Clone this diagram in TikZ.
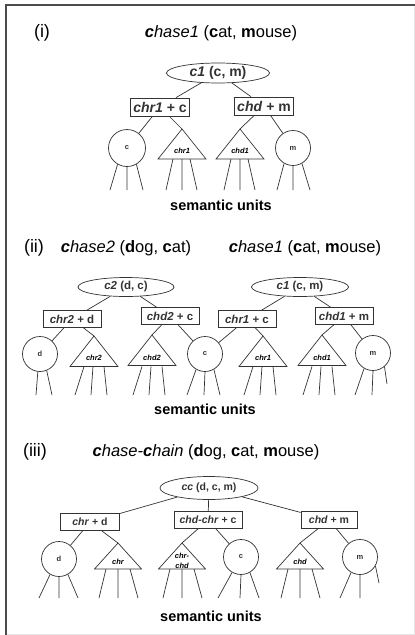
\documentclass[tikz,border=0pt]{standalone}
\usepackage{fontspec}
\setmainfont{Liberation Sans}
\usetikzlibrary{shapes.geometric}

\tikzset{
  lin/.style={line width=0.7pt, black!80},
  panel/.style={font=\fontsize{18}{20}\selectfont},
  ttl/.style={font=\fontsize{16.5}{18}\selectfont},
  sem/.style={ellipse, draw, lin, inner sep=0pt},
  feat/.style={rectangle, draw, lin, inner sep=2.5pt},
  unit/.style={circle, draw, lin, inner sep=0pt, minimum size=35pt,
    font=\fontsize{7.5}{8}\selectfont\bfseries},
  trilab/.style={font=\fontsize{7.5}{8}\selectfont\bfseries\itshape, inner sep=0pt, align=center},
  units/.style={font=\fontsize{14.5}{16}\selectfont\bfseries}
}

\begin{document}
\begin{tikzpicture}[x=1pt,y=-1pt]
  \useasboundingbox (0,0) rectangle (415,635);
  \fill[white] (0,0) rectangle (415,635);
  % frame
  \draw[black!10] (414,5) -- (414,634) -- (6,634);
  \draw[black!70, line width=1.5pt] (6,635) -- (6,5) -- (415,5);

  % (i)
  \node[panel] (lab1) at (42,33) {(i)};
  \node[ttl] (title1) at (221,33) {\textbf{\textit{c}}\textit{hase1} (\textbf{c}at, \textbf{m}ouse)};
  \node[sem, minimum width=103pt, minimum height=20pt, font=\fontsize{14}{16}\selectfont\bfseries] (c1) at (218,73) {\textit{c1} (c, m)};
  \node[feat, minimum height=18pt, font=\fontsize{14}{16}\selectfont\bfseries] (chr1c) at (160,107) {\textit{chr1} + c};
  \node[feat, minimum height=18pt, font=\fontsize{14}{16}\selectfont\bfseries] (chdm) at (264,106) {\textit{chd} + m};
  \node[unit, minimum size=37pt] (uc) at (127,148) {c};
  \node[unit] (um) at (293,148) {m};
  \coordinate (tchr1) at (182,129);
  \coordinate (tchd1) at (240,129);
  \draw[lin] (tchr1) -- ++(-24,30) -- ++(48,0) -- cycle;
  \draw[lin] (tchd1) -- ++(-24,30) -- ++(48,0) -- cycle;
  \node[trilab] (lchr1) at (182,151) {chr1};
  \node[trilab] (lchd1) at (240,151) {chd1};
  \draw[lin] (c1) -- (chr1c);
  \draw[lin] (c1) -- (chdm);
  \draw[lin] (chr1c) -- (uc);
  \draw[lin] (chr1c) -- (tchr1);
  \draw[lin] (chdm) -- (tchd1);
  \draw[lin] (chdm) -- (um);
  \draw[lin] (uc.240) -- (110,190) (uc.south) -- (127,190) (uc.300) -- (143,190);
  \draw[lin] (um.240) -- (277,190) (um.south) -- (293,190) (um.300) -- (310,190);
  \foreach \x in {182,240}
    \draw[lin] (\x-9,159) -- (\x-16,190) (\x,159) -- (\x,190) (\x+8,159) -- (\x+15,190);
  \node[units] (su1) at (221,205) {semantic units};

  % (ii)
  \node[panel] (lab2) at (34,248) {(ii)};
  \node[ttl] (title2a) at (126,248) {\textbf{\textit{c}}\textit{hase2} (\textbf{d}og, \textbf{c}at)};
  \node[ttl] (title2b) at (305,248) {\textbf{\textit{c}}\textit{hase1} (\textbf{c}at, \textbf{m}ouse)};
  \node[sem, minimum width=96pt, minimum height=19pt, font=\fontsize{11.5}{13}\selectfont\bfseries] (c2) at (126,287) {\textit{c2} (d, c)};
  \node[sem, minimum width=97pt, minimum height=19pt, font=\fontsize{11.5}{13}\selectfont\bfseries] (c1b) at (300,287) {\textit{c1} (c, m)};
  \node[feat, minimum width=58pt, minimum height=17pt, font=\fontsize{11.5}{13}\selectfont\bfseries] (chr2d) at (72,319) {\textit{chr2} + d};
  \node[feat, minimum width=58pt, minimum height=17pt, font=\fontsize{11.5}{13}\selectfont\bfseries] (chd2c) at (170,316) {\textit{chd2} + c};
  \node[feat, minimum width=58pt, minimum height=17pt, font=\fontsize{11.5}{13}\selectfont\bfseries] (chr1cb) at (247,319) {\textit{chr1} + c};
  \node[feat, minimum width=58pt, minimum height=17pt, font=\fontsize{11.5}{13}\selectfont\bfseries] (chd1m) at (344,316) {\textit{chd1} + m};
  \node[unit] (ud2) at (40,354) {d};
  \node[unit] (uc2) at (205,354) {c};
  \node[unit] (um2) at (373,353) {m};
  \coordinate (tchr2) at (94,336);
  \coordinate (tchd2) at (152,335);
  \coordinate (tchr1b) at (263,336);
  \coordinate (tchd1b) at (322,335);
  \foreach \t in {tchr2,tchd2,tchr1b,tchd1b}
    \draw[lin] (\t) -- ++(-24,30.5) -- ++(48,0) -- cycle;
  \node[trilab] (lchr2) at (94,358) {chr2};
  \node[trilab] (lchd2) at (152,358) {chd2};
  \node[trilab] (lchr1b) at (263,358) {chr1};
  \node[trilab] (lchd1b) at (322,358) {chd1};
  \draw[lin] (c2) -- (chr2d);
  \draw[lin] (c2) -- (chd2c);
  \draw[lin] (c1b) -- (chr1cb);
  \draw[lin] (c1b) -- (chd1m);
  \draw[lin] (chr2d) -- (ud2);
  \draw[lin] (chr2d) -- (tchr2);
  \draw[lin] (chd2c) -- (tchd2);
  \draw[lin] (chd2c) -- (uc2);
  \draw[lin] (chr1cb) -- (uc2);
  \draw[lin] (chr1cb) -- (tchr1b);
  \draw[lin] (chd1m) -- (tchd1b);
  \draw[lin] (chd1m) -- (um2);
  \draw[lin] (ud2.263) -- (36,395) (ud2.292) -- (52,395);
  \draw[lin] (uc2.240) -- (187,395) (uc2.south) -- (204,395) (uc2.300) -- (220,395);
  \draw[lin] (um2.240) -- (355,395) (um2.south) -- (372,395) (um2.310) -- (387,384);
  \foreach \x in {94,152,263,322}
    \draw[lin] (\x-10,366.5) -- (\x-19,395) (\x-1,366.5) -- (\x-3,395) (\x+10,366.5) -- (\x+13,395);
  \node[units] (su2) at (205,409) {semantic units};

  % (iii)
  \node[panel] (lab3) at (35,452) {(iii)};
  \node[ttl] (title3) at (206,452) {\textit{\textbf{c}hase-\textbf{c}hain} (\textbf{d}og, \textbf{c}at, \textbf{m}ouse)};
  \node[sem, minimum width=98pt, minimum height=23pt, font=\fontsize{10.5}{12}\selectfont\bfseries] (cc) at (209,488) {\textit{cc} (d, c, m)};
  \node[feat, minimum width=59pt, minimum height=17pt, font=\fontsize{10.5}{12}\selectfont\bfseries] (chrd) at (90,522) {\textit{chr} + d};
  \node[feat, minimum width=68pt, minimum height=17pt, font=\fontsize{10.5}{12}\selectfont\bfseries] (chdchrc) at (208,520) {\textit{chd-chr} + c};
  \node[feat, minimum width=56pt, minimum height=17pt, font=\fontsize{10.5}{12}\selectfont\bfseries] (chdm3) at (329,520) {\textit{chd} + m};
  \node[unit] (ud3) at (59,559) {d};
  \node[unit] (uc3) at (241,557) {c};
  \node[unit] (um3) at (360,557) {m};
  \coordinate (tchr) at (118,543);
  \coordinate (tchrchd) at (182,543);
  \coordinate (tchd) at (300,543);
  \foreach \t in {tchr,tchrchd,tchd}
    \draw[lin] (\t) -- ++(-23.5,26) -- ++(47,0) -- cycle;
  \node[trilab] (lchr) at (118,562) {chr};
  \node[trilab, font=\fontsize{7.5}{9.5}\selectfont\bfseries\itshape] (lchrchd) at (182,561) {chr-\\chd};
  \node[trilab] (lchd) at (300,562) {chd};
  \draw[lin] (cc) -- (chrd);
  \draw[lin] (cc) -- (chdchrc);
  \draw[lin] (cc) -- (chdm3);
  \draw[lin] (chrd) -- (ud3);
  \draw[lin] (chrd) -- (tchr);
  \draw[lin] (chdchrc) -- (tchrchd);
  \draw[lin] (chdchrc) -- (uc3);
  \draw[lin] (chdm3) -- (tchd);
  \draw[lin] (chdm3) -- (um3);
  \draw[lin] (ud3.240) -- (39,598) (ud3.south) -- (59,598) (ud3.300) -- (78,598);
  \draw[lin] (uc3.240) -- (218,598) (uc3.south) -- (240,598) (uc3.300) -- (259,598);
  \draw[lin] (um3.240) -- (340,598) (um3.south) -- (360,598) (um3.330) -- (379,583);
  \foreach \x in {118,182,300}
    \draw[lin] (\x-12,569) -- (\x-19,598) (\x,569) -- (\x,598) (\x+12,569) -- (\x+20,598);
  \node[units] (su3) at (211,616) {semantic units};
\end{tikzpicture}
\end{document}
